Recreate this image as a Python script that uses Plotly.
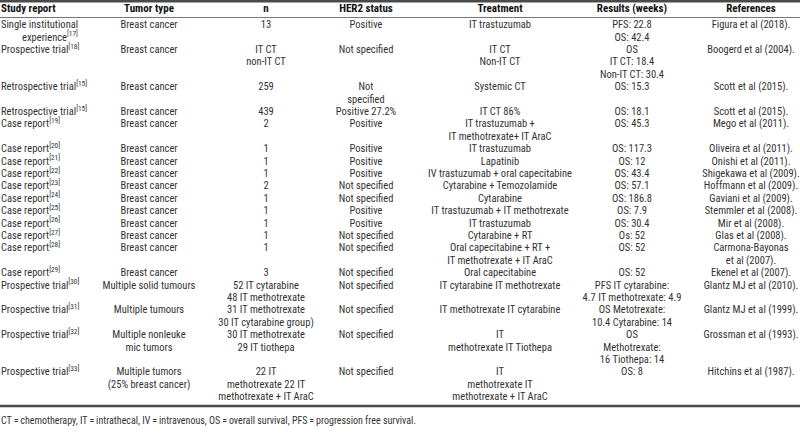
import plotly.graph_objects as go

# ---------------- data ----------------
headers = ["Study report", "Tumor type", "n", "HER2 status", "Treatment",
           "Results (weeks)", "References"]

study_report = [
    ["Single institutional", "experience<sup>[17]</sup>"],
    ["Prospective trial<sup>[18]</sup>"],
    ["Retrospective trial<sup>[15]</sup>"],
    ["Retrospective trial<sup>[15]</sup>"],
    ["Case report<sup>[19]</sup>"],
    ["Case report<sup>[20]</sup>"],
    ["Case report<sup>[21]</sup>"],
    ["Case report<sup>[22]</sup>"],
    ["Case report<sup>[23]</sup>"],
    ["Case report<sup>[24]</sup>"],
    ["Case report<sup>[25]</sup>"],
    ["Case report<sup>[26]</sup>"],
    ["Case report<sup>[27]</sup>"],
    ["Case report<sup>[28]</sup>"],
    ["Case report<sup>[29]</sup>"],
    ["Prospective trial<sup>[30]</sup>"],
    ["Prospective trial<sup>[31]</sup>"],
    ["Prospective trial<sup>[32]</sup>"],
    ["Prospective trial<sup>[33]</sup>"],
]

tumor_type = [["Breast cancer"]] * 15 + [
    ["Multiple solid tumours"],
    ["Multiple tumours"],
    ["Multiple nonleuke", "mic tumors"],
    ["Multiple tumors", "(25% breast cancer)"],
]

n_values = [
    ["13"], ["IT CT", "non-IT CT"], ["259"], ["439"], ["2"], ["1"], ["1"], ["1"],
    ["2"], ["1"], ["1"], ["1"], ["1"], ["1"], ["3"],
    ["52 IT cytarabine", "48 IT methotrexate"],
    ["31 IT methotrexate", "30 IT cytarabine group)"],
    ["30 IT methotrexate", "29 IT tiothepa"],
    ["22 IT", "methotrexate 22 IT", "methotrexate + IT AraC"],
]

her2_status = [
    ["Positive"], ["Not specified"], ["Not", "specified"], ["Positive 27.2%"],
    ["Positive"], ["Positive"], ["Positive"], ["Positive"], ["Not specified"],
    ["Not specified"], ["Positive"], ["Positive"], ["Not specified"],
    ["Not specified"], ["Not specified"], ["Not specified"], ["Not specified"],
    ["Not specified"], ["Not specified"],
]

treatment = [
    ["IT trastuzumab"],
    ["IT CT", "Non-IT CT"],
    ["Systemic CT"],
    ["IT CT 86%"],
    ["IT trastuzumab +", "IT methotrexate+ IT AraC"],
    ["IT trastuzumab"],
    ["Lapatinib"],
    ["IV trastuzumab + oral capecitabine"],
    ["Cytarabine + Temozolamide"],
    ["Cytarabine"],
    ["IT trastuzumab + IT methotrexate"],
    ["IT trastuzumab"],
    ["Cytarabine + RT"],
    ["Oral capecitabine + RT +", "IT methotrexate + IT AraC"],
    ["Oral capecitabine"],
    ["IT cytarabine IT methotrexate"],
    ["IT methotrexate IT cytarabine"],
    ["IT", "methotrexate IT Tiothepa"],
    ["IT", "methotrexate IT", "methotrexate + IT AraC"],
]

results = [
    ["PFS: 22.8", "OS: 42.4"],
    ["OS", "IT CT: 18.4", "Non-IT CT: 30.4"],
    ["OS: 15.3"], ["OS: 18.1"], ["OS: 45.3"], ["OS: 117.3"], ["OS: 12"],
    ["OS: 43.4"], ["OS: 57.1"], ["OS: 186.8"], ["OS: 7.9"], ["OS: 30.4"],
    ["Os: 52"], ["OS: 52"], ["OS: 52"],
    ["PFS IT cytarabine:", "4.7 IT methotrexate: 4.9"],
    ["OS Metotrexate:", "10.4 Cytarabine: 14"],
    ["OS", "Methotrexate:", "16 Tiothepa: 14"],
    ["OS: 8"],
]

references = [
    ["Figura et al (2018)."], ["Boogerd et al (2004)."], ["Scott et al (2015)."],
    ["Scott et al (2015)."], ["Mego et al (2011)."], ["Oliveira et al (2011)."],
    ["Onishi et al (2011)."], ["Shigekawa et al (2009)."], ["Hoffmann et al (2009)."],
    ["Gaviani et al (2009)."], ["Stemmler et al (2008)."], ["Mir et al (2008)."],
    ["Glas et al (2008)."], ["Carmona-Bayonas", "et al (2007)."],
    ["Ekenel et al (2007)."], ["Glantz MJ et al (2010)."], ["Glantz MJ et al (1999)."],
    ["Grossman et al (1993)."], ["Hitchins et al (1987)."],
]

footnote = ("CT\u2009=\u2009chemotherapy, IT\u2009=\u2009intrathecal, IV\u2009=\u2009intravenous, "
            "OS\u2009=\u2009overall survival, PFS\u2009=\u2009progression free survival.")

columns = [study_report, tumor_type, n_values, her2_status, treatment, results, references]

# ---------------- style / layout ----------------
W, H = 800, 437
FONT = "Roboto Condensed, Liberation Sans Narrow, Arial Narrow, sans-serif"
BODY_SIZE = 10.5
HEAD_SIZE = 11
FOOT_SIZE = 10
TXT = "#333333"
col_x = [1, 149, 266, 366, 500, 632, 751]     # pixel x (left edge for col 0, centres otherwise)
INDENT = 21                                     # hanging indent for wrapped study-report lines
Y0_PX, LINE_PX = 25.5, 12.4                     # first body line position and line pitch
HEADER_PX, FOOT_PX = 9, 421

def px_to_line(p):
    return (p - Y0_PX) / LINE_PX

# line offsets of each row
row_lines = [max(len(c[i]) for c in columns) for i in range(len(study_report))]
row_start = []
acc = 0
for h in row_lines:
    row_start.append(acc)
    acc += h

fig = go.Figure()

for ci, col in enumerate(columns):
    xs, ys, ts = [], [], []
    for ri, lines in enumerate(col):
        for li, t in enumerate(lines):
            x = col_x[ci] + (INDENT if (ci == 0 and li > 0) else 0)
            xs.append(x)
            ys.append(row_start[ri] + li)
            ts.append(t)
    fig.add_trace(go.Scatter(
        x=xs, y=ys, text=ts, mode="text",
        textposition="middle right" if ci == 0 else "middle center",
        textfont=dict(family=FONT, size=BODY_SIZE, color=TXT),
        hoverinfo="skip", showlegend=False, cliponaxis=False))

# header
fig.add_trace(go.Scatter(
    x=col_x, y=[px_to_line(HEADER_PX)] * len(headers),
    text=[f"<b>{h}</b>" for h in headers], mode="text",
    textposition=["middle right"] + ["middle center"] * (len(headers) - 1),
    textfont=dict(family=FONT, size=HEAD_SIZE, color="#111"),
    hoverinfo="skip", showlegend=False, cliponaxis=False))

# footnote
fig.add_trace(go.Scatter(
    x=[col_x[0]], y=[px_to_line(FOOT_PX)], text=[footnote], mode="text",
    textposition="middle right",
    textfont=dict(family=FONT, size=FOOT_SIZE, color=TXT),
    hoverinfo="skip", showlegend=False, cliponaxis=False))

def rule(py, width, color):
    yy = 1 - py / H
    return dict(type="line", xref="paper", yref="paper", x0=0, x1=1, y0=yy, y1=yy,
                line=dict(color=color, width=width))

fig.update_layout(
    width=W, height=H, margin=dict(l=0, r=0, t=0, b=0),
    paper_bgcolor="white", plot_bgcolor="white",
    xaxis=dict(range=[0, W], visible=False, fixedrange=True),
    yaxis=dict(range=[px_to_line(H), px_to_line(0)], visible=False, fixedrange=True),
    shapes=[rule(1.2, 2.4, "#4a4a4a"), rule(17.5, 1, "#777"), rule(406, 2.4, "#4a4a4a")],
)

fig.write_html("out.html",
               config={"displayModeBar": False, "staticPlot": True},
               post_script="document.documentElement.style.margin='0';"
                           "document.body.style.margin='0';document.body.style.padding='0';")
